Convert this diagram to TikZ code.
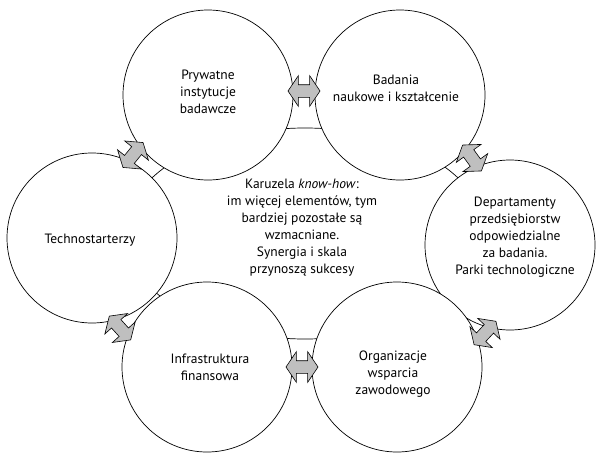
\documentclass[tikz,border=0pt]{standalone}
\usepackage{fontspec}
\setmainfont{PT Sans}
\usetikzlibrary{shapes.arrows,shapes.geometric}
\begin{document}
\begin{tikzpicture}[x=1pt,y=-1pt,
  txt/.style={font=\fontsize{13.5}{17}\selectfont, align=center},
  unit/.style={circle, draw, fill=white, line width=0.7pt, minimum size=170pt, inner sep=0pt},
  hub/.style={ellipse, draw, line width=0.7pt, minimum width=360pt, minimum height=211pt, inner sep=0pt},
  link/.style={double arrow, draw, fill=gray!50, line width=0.6pt, minimum height=32pt,
    inner xsep=0pt, inner ysep=6pt, double arrow head extend=9pt, double arrow tip angle=112}]
\useasboundingbox (0,0) rectangle (596,452);

% central ring, partly covered by the six circles
\node[hub] (hub) at (305,233.5) {};

% the six partners
\node[unit] (inst) at (208,95) {};
\node[unit] (uni)  at (400,95) {};
\node[unit] (start) at (92,238) {};
\node[unit] (dept) at (510,245) {};
\node[unit] (fin)  at (207,367) {};
\node[unit] (org)  at (397,367) {};

% labels
\node[txt] (tinst) at (208,92) {Prywatne\\instytucje\\badawcze};
\node[txt] (tuni) at (396,88) {Badania\\naukowe i kształcenie};
\node[txt] (tstart) at (90,240) {Technostarterzy};
\node[txt] (tdept) at (515,237) {Departamenty\\przedsiębiorstw\\odpowiedzialne\\za badania.\\Parki technologiczne};
\node[txt] (tfin) at (210,367) {Infrastruktura\\finansowa};
\node[txt] (torg) at (393,374) {Organizacje\\wsparcia\\zawodowego};
\node[txt] (thub) at (302,228) {Karuzela \textit{know-how}:\\im więcej elementów, tym\\bardziej pozostałe są\\wzmacniane.\\Synergia i skala\\przynoszą sukcesy};

% two-way links between neighbours
\node[link] (l1) at (304,91) {};
\node[link, rotate=51] (l2) at (133,155) {};
\node[link, rotate=-54] (l3) at (472,158) {};
\node[link, rotate=-48] (l4) at (120,328) {};
\node[link, rotate=47] (l5) at (485,333) {};
\node[link] (l6) at (302,367) {};
\end{tikzpicture}
\end{document}
